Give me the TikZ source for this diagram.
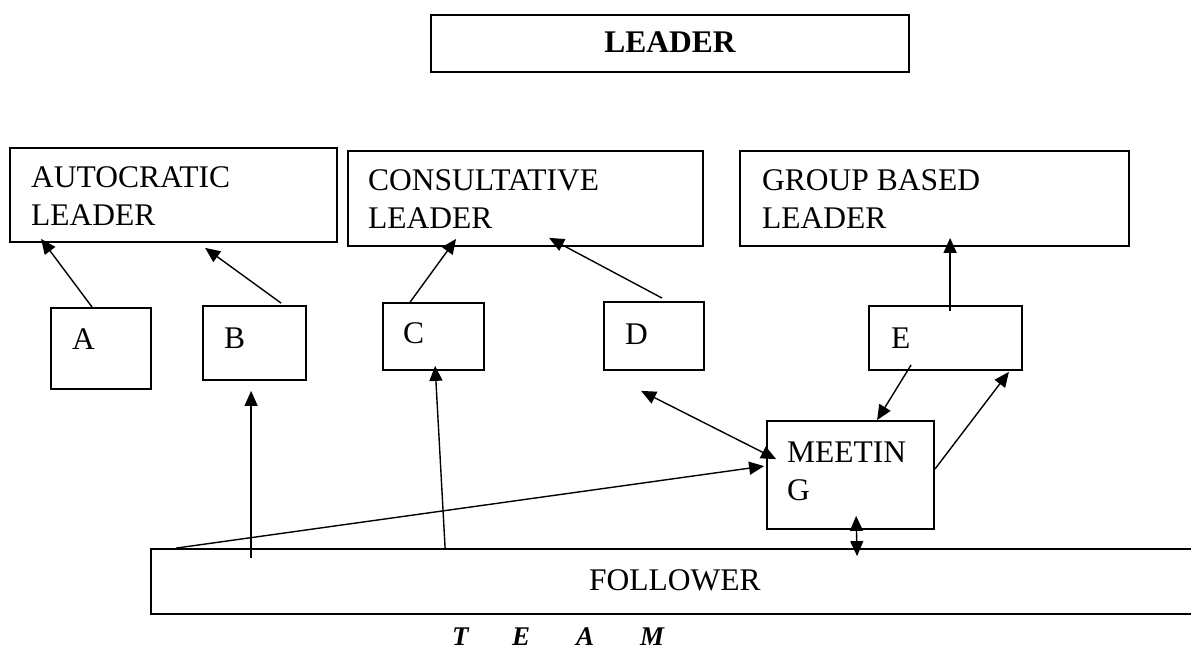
\documentclass[tikz,border=0pt]{standalone}
\usepackage{fontspec}
\setmainfont{Liberation Serif}
\usetikzlibrary{arrows.meta,calc}
\begin{document}
\begin{tikzpicture}[x=1pt,y=-1pt,
  box/.style={draw,line width=1.8pt,inner sep=0pt,rectangle},
  lbl/.style={inner sep=0pt,anchor=base west,font=\fontsize{31.5}{38}\selectfont},
  teamlbl/.style={inner sep=0pt,anchor=base west,font=\fontsize{27}{30}\selectfont\bfseries\itshape},
  tipa/.tip={Triangle[length=15pt,width=13pt]},
  conn/.style={line width=1.4pt,-tipa},
  dconn/.style={line width=1.4pt,tipa-tipa},
]
\useasboundingbox (0,0) rectangle (1191,650);
\clip (0,0) rectangle (1191,650);

% boxes
\node[box,minimum width=478pt,minimum height=57pt] (leader) at (670,43.5) {};
\node[box,minimum width=327pt,minimum height=94pt] (auto) at (173.5,195) {};
\node[box,minimum width=355pt,minimum height=95pt] (cons) at (525.5,198.5) {};
\node[box,minimum width=389pt,minimum height=95pt] (group) at (934.5,198.5) {};
\node[box,minimum width=100pt,minimum height=81pt] (A) at (101,348.5) {};
\node[box,minimum width=103pt,minimum height=74pt] (B) at (254.5,343) {};
\node[box,minimum width=101pt,minimum height=67pt] (C) at (433.5,336.5) {};
\node[box,minimum width=100pt,minimum height=68pt] (D) at (654,336) {};
\node[box,minimum width=153pt,minimum height=64pt] (E) at (945.5,338) {};
\node[box,minimum width=167pt,minimum height=108pt] (meet) at (850.5,475) {};
\node[box,minimum width=1099pt,minimum height=65pt] (foll) at (700.5,581.5) {};

% texts
\node[lbl,anchor=base,font=\fontsize{31.5}{38}\selectfont\bfseries] (tleader) at (670,53) {LEADER};
\node[lbl] (tauto1) at (31,187) {AUTOCRATIC};
\node[lbl] (tauto2) at (31,225) {LEADER};
\node[lbl] (tcons1) at (368,190) {CONSULTATIVE};
\node[lbl] (tcons2) at (368,228) {LEADER};
\node[lbl] (tgroup1) at (762,190) {GROUP BASED};
\node[lbl] (tgroup2) at (762,228) {LEADER};
\node[lbl] (tA) at (72,349) {A};
\node[lbl] (tB) at (224,348) {B};
\node[lbl] (tC) at (403,343) {C};
\node[lbl] (tD) at (625,344) {D};
\node[lbl] (tE) at (891,348) {E};
\node[lbl] (tmeet1) at (787,462) {MEETIN};
\node[lbl] (tmeet2) at (787,500) {G};
\node[lbl] (tfoll) at (589,590) {FOLLOWER};
\node[teamlbl] (team1) at (452,645) {T};
\node[teamlbl] (team2) at (512,645) {E};
\node[teamlbl] (team3) at (576,645) {A};
\node[teamlbl] (team4) at (640,645) {M};

% connectors
\draw[conn] ($(A.north west)+(42,0)$) -- ($(auto.south west)+(32,-4)$);
\draw[conn] ($(B.north west)+(79,-2)$) -- ($(auto.south west)+(196,5)$);
\draw[conn] ($(C.north west)+(28,0)$) -- ($(cons.south west)+(109,-8)$);
\draw[conn] ($(D.north west)+(59,-3)$) -- ($(cons.south west)+(202,-9)$);
\draw[conn] ($(E.north west)+(82,6)$) -- ($(group.south west)+(211,-9)$);
\draw[conn] ($(E.south west)+(43,-6)$) -- ($(meet.north west)+(111,0)$);
\draw[conn] ($(meet.north east)+(0,49)$) -- ($(E.south east)+(-14,1)$);
\draw[dconn] ($(D.south west)+(38,20)$) -- ($(meet.north west)+(10,39)$);
\draw[conn] ($(foll.north west)+(26,0)$) -- ($(meet.north west)+(-2,46)$);
\draw[conn] ($(foll.north west)+(101,10)$) -- ($(B.south west)+(49,10)$);
\draw[conn] ($(foll.north west)+(295,0)$) -- ($(C.south west)+(53,-5)$);
\draw[dconn] ($(meet.south west)+(90,-14)$) -- ($(foll.north west)+(707,8)$);
\end{tikzpicture}
\end{document}
